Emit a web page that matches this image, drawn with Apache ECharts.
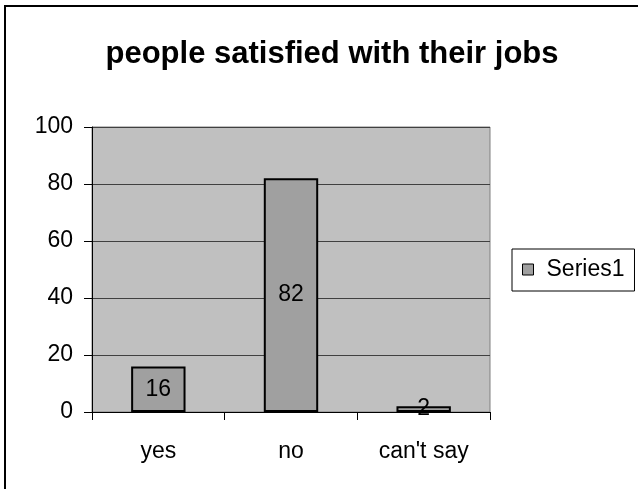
<!DOCTYPE html>
<html>
<head>
<meta charset="utf-8">
<script src="https://cdn.jsdelivr.net/npm/echarts@6/dist/echarts.min.js"></script>
<style>
  html, body { margin: 0; padding: 0; background: #fff; }
  #chart { width: 638px; height: 489px; }
</style>
</head>
<body>
<div id="chart"></div>
<script>
const categories = ['yes', 'no', "can't say"];
const values = [16, 82, 2];
const yTicks = [0, 20, 40, 60, 80, 100];

const chart = echarts.init(document.getElementById('chart'));
const font = 'Arial, "Liberation Sans", sans-serif';

chart.setOption({
  animation: false,
  backgroundColor: '#ffffff',
  title: {
    text: 'people satisfied with their jobs',
    left: 327,
    textAlign: 'center',
    top: 34,
    textStyle: { fontFamily: font, fontWeight: 'bold', fontSize: 31, color: '#000' }
  },
  legend: {
    data: ['Series1'],
    left: 512,
    top: 249,
    padding: [9, 10, 10, 10],
    borderColor: '#000',
    borderWidth: 1,
    itemWidth: 11,
    itemHeight: 11,
    icon: 'rect',
    itemStyle: { borderColor: '#000', borderWidth: 1 },
    textStyle: { fontFamily: font, fontSize: 23, color: '#000', padding: [0, 0, 0, 8] }
  },
  grid: {
    left: 92, top: 127, width: 398, height: 285,
    show: true,
    backgroundColor: '#c0c0c0',
    borderColor: '#808080',
    borderWidth: 1
  },
  xAxis: {
    type: 'category',
    data: categories,
    boundaryGap: true,
    axisLine: { lineStyle: { color: '#000', width: 1 } },
    axisTick: { show: true, length: 8, alignWithLabel: false, lineStyle: { color: '#000' } },
    axisLabel: { fontFamily: font, fontSize: 23, color: '#000', margin: 28 }
  },
  yAxis: {
    type: 'value',
    min: yTicks[0],
    max: yTicks[yTicks.length - 1],
    interval: 20,
    axisLine: { show: true, lineStyle: { color: '#000', width: 1 } },
    axisTick: { show: true, length: 8, lineStyle: { color: '#000' } },
    axisLabel: { fontFamily: font, fontSize: 23, color: '#000', margin: 19 },
    splitLine: { show: true, lineStyle: { color: '#404040', width: 1 } }
  },
  series: [{
    name: 'Series1',
    type: 'bar',
    data: values,
    barWidth: '41%',
    itemStyle: { color: '#a0a0a0', borderColor: '#000', borderWidth: 2 },
    label: {
      show: true,
      position: 'inside',
      fontFamily: font,
      fontSize: 23,
      color: '#000'
    }
  }],
  graphic: [{
    type: 'rect',
    shape: { x: 5, y: 6, width: 700, height: 600 },
    style: { fill: 'none', stroke: '#000', lineWidth: 2 },
    silent: true,
    z: 100
  }]
});
</script>
</body>
</html>
